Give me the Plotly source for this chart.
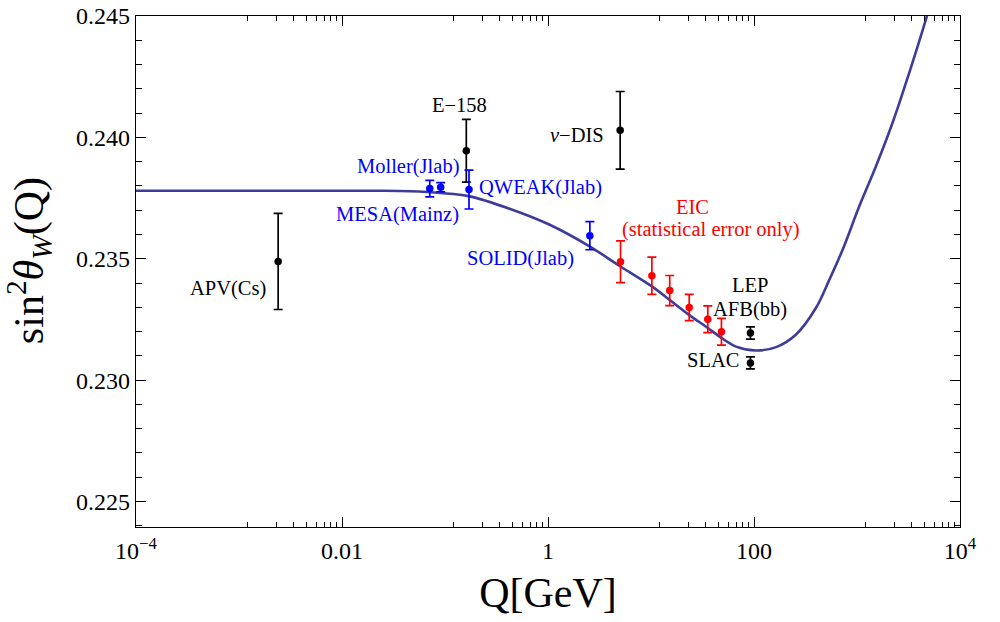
import plotly.graph_objects as go

# ---------------- data ----------------
# running sin^2 theta_W curve
curve_Q = [1e-4, 1e-3, 0.01, 0.025, 0.0455, 0.0908, 0.174, 0.43, 1.04, 2.53, 5.06, 10.2,
           15.1, 23.4, 35.3, 48.3, 67.0, 104.7, 164, 256, 400, 538, 725, 1052, 1528,
           2215, 3214, 4667, 6000]
curve_s = [0.23780, 0.23780, 0.23780, 0.23780, 0.23778, 0.23771, 0.23757, 0.23705,
           0.23640, 0.23551, 0.23468, 0.23386, 0.23331, 0.23269, 0.23216, 0.23174,
           0.23138, 0.23122, 0.23136, 0.23188, 0.23298, 0.23413, 0.23537, 0.23716,
           0.23881, 0.24060, 0.24266, 0.24486, 0.2465]

# existing measurements (black)
black_names = ["APV(Cs)", "E-158", "nu-DIS", "LEP AFB(bb)", "SLAC"]
black_Q = [0.0024, 0.161, 5.02, 92.3, 92.3]
black_s = [0.23489, 0.23945, 0.24029, 0.23194, 0.23071]
black_err = [0.00198, 0.00129, 0.00160, 0.00025, 0.00025]

# future low-energy experiments (blue): Moller(Jlab), MESA(Mainz), QWEAK(Jlab), SOLID(Jlab)
blue_Q = [0.0711, 0.0908, 0.171, 2.55]
blue_s = [0.23789, 0.23795, 0.23785, 0.23595]
blue_err = [0.00034, 0.00019, 0.00080, 0.00058]

# EIC projections (red)
red_Q = [5.06, 10.2, 15.2, 23.5, 35.6, 48.3]
red_s = [0.23488, 0.23430, 0.23369, 0.23299, 0.23251, 0.23199]
red_err = [0.00086, 0.00077, 0.00062, 0.00054, 0.00055, 0.00055]

x_tickvals = [1e-4, 1e-2, 1, 1e2, 1e4]
x_ticktext = ["10<sup>\u22124</sup>", "0.01", "1", "100", "10<sup>4</sup>"]
y_tickvals = [0.225, 0.230, 0.235, 0.240, 0.245]

# ---------------- figure ----------------
FONT = "Liberation Serif"
fig = go.Figure()

fig.add_trace(go.Scatter(x=curve_Q, y=curve_s, mode="lines",
                         line=dict(color="#3d3d99", width=2.6, shape="spline", smoothing=1.0),
                         hoverinfo="skip", showlegend=False))

def pts(xs, ys, es, color):
    fig.add_trace(go.Scatter(
        x=xs, y=ys, mode="markers",
        marker=dict(color=color, size=7.5),
        error_y=dict(type="data", array=es, color=color, thickness=1.7, width=4.5),
        showlegend=False))

pts(black_Q, black_s, black_err, "black")
pts(blue_Q, blue_s, blue_err, "#0000ff")
pts(red_Q, red_s, red_err, "#ff0000")

# minor ticks: Mathematica-style linear subdivisions between majors
x_minor = []
for a, b in zip(x_tickvals[:-1], x_tickvals[1:]):
    for k in range(1, 9):
        x_minor.append(a + k * (b - a) / 9)
y_minor = [round(0.224 + 0.001 * k, 4) for k in range(0, 22)]

def lab(text, lq, y, color, xanchor="center", size=20.5):
    fig.add_annotation(x=lq, y=y, xref="x", yref="y", text=text, showarrow=False,
                       xanchor=xanchor, yanchor="middle",
                       font=dict(family=FONT, size=size, color=color))

lab("E\u2212158", -0.857, 0.24135, "black")
lab("<i>\u03bd</i>\u2212DIS", 0.565, 0.24011, "black", "right")
lab("Moller(Jlab)", -0.841, 0.23881, "#0000ff", "right")
lab("MESA(Mainz)", -0.841, 0.23681, "#0000ff", "right")
lab("QWEAK(Jlab)", -0.690, 0.23792, "#0000ff", "left")
lab("SOLID(Jlab)", 0.274, 0.23500, "#0000ff", "right")
lab("EIC", 1.405, 0.23712, "#ff0000")
lab("(statistical error only)", 1.584, 0.23620, "#ff0000")
lab("LEP", 1.960, 0.23390, "black")
lab("AFB(bb)", 1.960, 0.23290, "black")
lab("SLAC", 1.875, 0.23083, "black", "right")
lab("APV(Cs)", -2.717, 0.23379, "black", "right")

# y-axis title (rotated), placed in the left margin
fig.add_annotation(x=-0.130, y=0.522, xref="paper", yref="paper",
                   text="sin<sup>2</sup><i>\u03b8</i><sub><i>W</i></sub>(Q)",
                   textangle=-90, showarrow=False, xanchor="center", yanchor="middle",
                   font=dict(family=FONT, size=42, color="black"))

fig.update_layout(
    width=1000, height=622,
    margin=dict(l=136, r=40, t=16, b=95),
    paper_bgcolor="white", plot_bgcolor="white",
    font=dict(family=FONT, color="black"),
    xaxis=dict(type="log", range=[-4, 4], automargin=False,
               tickmode="array", tickvals=x_tickvals, ticktext=x_ticktext,
               ticks="inside", ticklen=10, tickwidth=1, tickcolor="black",
               ticklabelstandoff=2,
               minor=dict(tickmode="array", tickvals=x_minor, ticks="inside",
                          ticklen=5, tickcolor="black", showgrid=False),
               showline=True, linecolor="black", linewidth=1.2, mirror="ticks",
               showgrid=False, zeroline=False,
               tickfont=dict(family=FONT, size=24),
               title=dict(text="Q[GeV]", font=dict(family=FONT, size=42), standoff=14)),
    yaxis=dict(range=[0.22395, 0.245], automargin=False,
               tickmode="array", tickvals=y_tickvals, tickformat=".3f",
               ticks="inside", ticklen=10, tickwidth=1, tickcolor="black",
               minor=dict(tickmode="array", tickvals=y_minor, ticks="inside",
                          ticklen=6, tickcolor="black", showgrid=False),
               showline=True, linecolor="black", linewidth=1.2, mirror="ticks",
               showgrid=False, zeroline=False,
               tickfont=dict(family=FONT, size=24)),
)

# remove the browser's default 8px page margin so the figure sits at the window's corner
fig.write_html("out.html", config={"displayModeBar": False},
               post_script="document.body.style.margin='0px';")
